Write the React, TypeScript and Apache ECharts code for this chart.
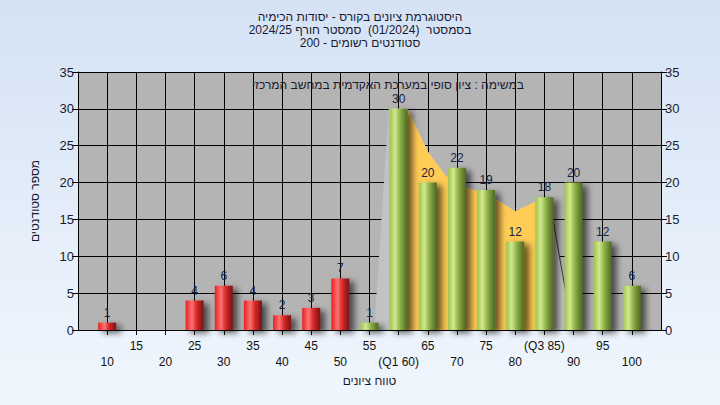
import React, { useEffect, useRef } from "react";
import * as echarts from "echarts";

const categories = [10, 15, 20, 25, 30, 35, 40, 45, 50, 55, 60, 65, 70, 75, 80, 85, 90, 95, 100];
const counts = [1, 0, 0, 4, 6, 4, 2, 3, 7, 1, 30, 20, 22, 19, 12, 18, 20, 12, 6];
const tickLabels: Record<number, string> = {
  10: "10", 15: "15", 20: "20", 25: "25", 30: "30", 35: "35", 40: "40", 45: "45", 50: "50",
  55: "55", 60: "(Q1 60)", 65: "65", 70: "70", 75: "75", 80: "80", 85: "(Q3 85)", 90: "90", 95: "95", 100: "100",
};
const passMark = 55;
// smoothed distribution outline (x = grade, y = students)
const curvePoints: [number, number][] = [
  [55.8, 0], [58.3, 30], [61.5, 30], [65, 24.2], [68, 21], [72, 19.2], [75, 18.6], [80, 16.1], [84, 17.6], [85.8, 18], [89.8, 0],
];
const q1 = 60;
const q3 = 85;
const titleLines = [
  "היסטוגרמת ציונים בקורס - יסודות הכימיה",
  "בסמסטר  (01/2024)  סמסטר חורף 2024/25",
  "סטודנטים רשומים - 200",
];
const noteText = "במשימה : ציון סופי במערכת האקדמית במחשב המרכזי";
const xName = "טווח ציונים";
const yName = "מספר סטודנטים";

const FONT = "'Liberation Sans', 'DejaVu Sans', sans-serif";

function interp(x: number): number {
  for (let i = 0; i < curvePoints.length - 1; i++) {
    const [x0, y0] = curvePoints[i];
    const [x1, y1] = curvePoints[i + 1];
    if (x >= x0 && x <= x1) return y0 + ((y1 - y0) * (x - x0)) / (x1 - x0);
  }
  return 0;
}

export default function App() {
  const ref = useRef<HTMLDivElement>(null);
  useEffect(() => {
    if (!ref.current) return;
    const chart = echarts.init(ref.current, undefined, { renderer: "svg" });
    const redGrad = new echarts.graphic.LinearGradient(0, 0, 1, 0, [
      { offset: 0, color: "#e82020" },
      { offset: 0.35, color: "#ff7272" },
      { offset: 0.6, color: "#d82a2a" },
      { offset: 1, color: "#7a1010" },
    ]);
    const greenGrad = new echarts.graphic.LinearGradient(0, 0, 1, 0, [
      { offset: 0, color: "#9cc44a" },
      { offset: 0.3, color: "#d2e88e" },
      { offset: 0.6, color: "#8aad45" },
      { offset: 1, color: "#4c6624" },
    ]);
    const barData = categories.map((c, i) => ({
      value: [c, counts[i]],
      itemStyle: { color: c < passMark ? redGrad : greenGrad },
      label: { show: counts[i] > 0 },
    }));
    const yellowPts: [number, number][] = [[q1, interp(q1)]];
    curvePoints.forEach((p) => {
      if (p[0] > q1 && p[0] < q3) yellowPts.push(p);
    });
    yellowPts.push([q3, interp(q3)]);
    const lastTwo = curvePoints.slice(curvePoints.length - 2);

    chart.setOption({
      animation: false,
      textStyle: { fontFamily: FONT },
      title: {
        text: titleLines.join("\n"),
        left: "center",
        top: 5,
        textStyle: { fontSize: 12, fontWeight: "normal", color: "#1a1a33", lineHeight: 13, fontFamily: FONT },
      },
      grid: {
        left: 78, right: 59, top: 72, bottom: 75,
        show: true, backgroundColor: "#b4b4b4", borderWidth: 0,
      },
      xAxis: {
        type: "value",
        min: 5, max: 105, interval: 5,
        name: xName,
        nameLocation: "middle",
        nameGap: 45,
        nameTextStyle: { fontSize: 12, color: "#1a1a33", fontFamily: FONT },
        axisLine: { show: true, onZero: false, lineStyle: { color: "#000", width: 1 } },
        axisTick: { show: true, length: 5, lineStyle: { color: "#000" } },
        splitLine: { show: true, lineStyle: { color: "#000", width: 1 } },
        axisLabel: {
          margin: 8,
          fontSize: 12,
          lineHeight: 16,
          color: "#111",
          showMinLabel: false,
          showMaxLabel: false,
          formatter: (v: number) => {
            const t = tickLabels[v];
            if (!t) return "";
            return v % 10 === 0 ? "\n" + t : t;
          },
        },
      },
      yAxis: [
        {
          type: "value", min: 0, max: 35, interval: 5,
          name: yName, nameLocation: "middle", nameGap: 37, nameRotate: 90,
          nameTextStyle: { fontSize: 12, color: "#1a1a33", fontFamily: FONT },
          axisLine: { show: true, lineStyle: { color: "#000" } },
          axisTick: { show: true, length: 6, lineStyle: { color: "#000" } },
          splitLine: { show: true, lineStyle: { color: "#000", width: 1 } },
          axisLabel: { fontSize: 13, color: "#1a1a2e", margin: 4 },
        },
        {
          type: "value", min: 0, max: 35, interval: 5, position: "right",
          axisLine: { show: true, lineStyle: { color: "#000" } },
          axisTick: { show: true, length: 6, lineStyle: { color: "#000" } },
          splitLine: { show: false },
          axisLabel: { fontSize: 13, color: "#1a1a2e", margin: 4 },
        },
      ],
      graphic: [
        {
          type: "text",
          left: 370 - 118,
          top: 79,
          style: { text: noteText, fontSize: 12, fill: "#1a1a33", fontFamily: FONT },
          z: 100,
        },
      ],
      series: [
        {
          type: "line",
          data: curvePoints,
          symbol: "none",
          lineStyle: { width: 0 },
          areaStyle: { color: "#c2c2c2", opacity: 1 },
          z: 1,
          silent: true,
        },
        {
          type: "line",
          data: yellowPts,
          symbol: "none",
          lineStyle: { width: 0 },
          areaStyle: { color: "#ffcc55", opacity: 1 },
          z: 2,
          silent: true,
        },
        {
          type: "line",
          data: lastTwo,
          symbol: "none",
          lineStyle: { width: 1, color: "#3a3a3a" },
          z: 3,
          silent: true,
        },
        {
          type: "bar",
          data: barData,
          barWidth: 18,
          z: 5,
          itemStyle: {
            shadowColor: "rgba(0,0,0,0.6)",
            shadowBlur: 6,
            shadowOffsetX: 5,
            shadowOffsetY: 3,
          },
          label: {
            show: true,
            position: "top",
            distance: 4,
            fontSize: 12,
            color: "#1a2244",
            fontFamily: FONT,
            formatter: (p: any) => String(p.value[1]),
          },
        },
      ],
    });
    return () => chart.dispose();
  }, []);
  return (
    <div
      ref={ref}
      style={{
        position: "fixed", left: 0, top: 0, width: 720, height: 405,
        background: "linear-gradient(to bottom, #d4e2f4 0%, #e6effa 60%, #f0f6fd 100%)",
      }}
    />
  );
}
